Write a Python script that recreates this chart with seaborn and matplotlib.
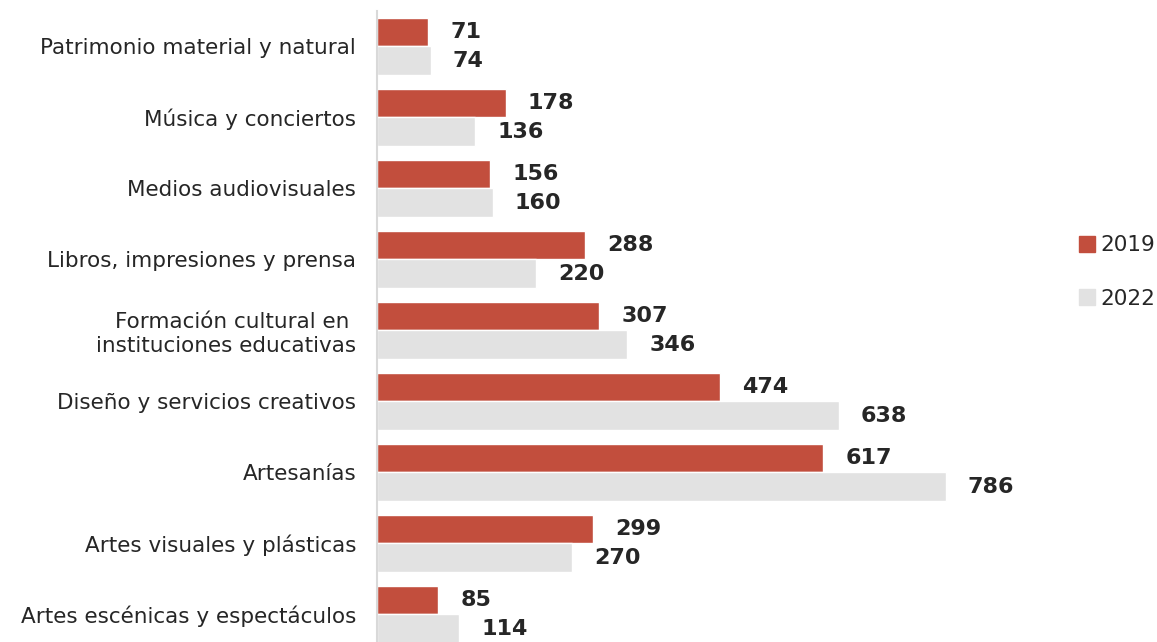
import matplotlib
matplotlib.use("Agg")
import matplotlib.pyplot as plt
import seaborn as sns
import pandas as pd
from matplotlib.lines import Line2D

categories = [
    "Patrimonio material y natural",
    "Música y conciertos",
    "Medios audiovisuales",
    "Libros, impresiones y prensa",
    "Formación cultural en \ninstituciones educativas",
    "Diseño y servicios creativos",
    "Artesanías",
    "Artes visuales y plásticas",
    "Artes escénicas y espectáculos",
]
values_2019 = [71, 178, 156, 288, 307, 474, 617, 299, 85]
values_2022 = [74, 136, 160, 220, 346, 638, 786, 270, 114]
years = ["2019", "2022"]
colors = ["#C24E3D", "#E2E2E2"]

df = pd.DataFrame({
    "categoria": categories * 2,
    "valor": values_2019 + values_2022,
    "anio": [years[0]] * len(categories) + [years[1]] * len(categories),
})

sns.set_theme(style="white")
plt.rcParams["font.family"] = ["DejaVu Sans"]
text_color = "#262626"

fig = plt.figure(figsize=(11.57, 6.42), dpi=100)
ax = fig.add_axes([377 / 1157, 0.0, 680 / 1157, (642 - 11) / 642])

sns.barplot(data=df, y="categoria", x="valor", hue="anio", orient="h",
            palette=colors, saturation=1, width=0.8, ax=ax, legend=False,
            order=categories, hue_order=years)

for cont in ax.containers:
    ax.bar_label(cont, padding=16, fontsize=16, fontweight="bold", color=text_color)

ax.set_xlim(0, 940)
ax.set_ylim(8.39, -0.5)
ax.set_xlabel("")
ax.set_ylabel("")
ax.set_xticks([])
ax.tick_params(axis="y", length=0, pad=15, labelsize=15.5, labelcolor=text_color)
for lbl in ax.get_yticklabels():
    lbl.set_horizontalalignment("right")
for s in ["top", "right", "bottom"]:
    ax.spines[s].set_visible(False)
ax.spines["left"].set_color("#D9D9D9")
ax.spines["left"].set_linewidth(1.5)

handles = [Line2D([0], [0], marker="s", linestyle="", markersize=11,
                  markerfacecolor=c, markeredgecolor=c) for c in colors]
fig.legend(handles, years, loc="center left", bbox_to_anchor=(1076 / 1157, 1 - 272 / 642),
           frameon=False, fontsize=15.5, handletextpad=0.15, labelspacing=1.55,
           handlelength=1.0, borderpad=0, borderaxespad=0, labelcolor=text_color)

fig.savefig("out.png", dpi=100)
